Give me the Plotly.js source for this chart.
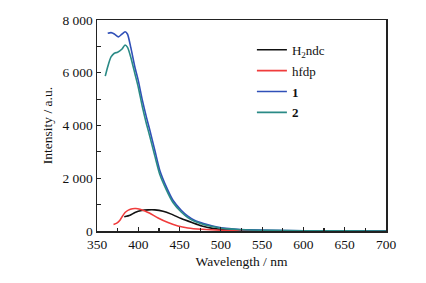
<!DOCTYPE html>
<html>
<head>
<meta charset="utf-8">
<script src="https://cdn.plot.ly/plotly-3.0.1.min.js"></script>
<style>html,body{margin:0;padding:0;background:#fff;}#chart{width:426px;height:283px;}</style>
</head>
<body>
<div id="chart"></div>
<script>
// Data
const seriesNames = ["H<sub>2</sub>ndc", "hfdp", "<b>1</b>", "<b>2</b>"];

const h2ndcX = [383, 390, 396, 404, 412, 420, 430, 440, 452, 465, 477, 490, 500, 520, 550, 600, 650, 700];
const h2ndcY = [540, 600, 700, 775, 800, 800, 750, 640, 470, 320, 190, 100, 60, 20, 8, 3, 1, 0];

const hfdpX = [370, 374, 378, 381, 384, 388, 393, 397, 402, 408, 414, 424, 436, 448, 460, 477, 500, 550, 600, 650, 700];
const hfdpY = [245, 300, 420, 570, 700, 790, 845, 852, 825, 760, 670, 495, 320, 190, 115, 65, 30, 10, 5, 3, 2];

const c1X = [363, 367, 371, 376, 380, 384, 387, 391, 396, 400, 405, 410, 414, 420, 426, 434, 442, 452, 460, 468, 479, 490, 499, 510, 520, 535, 560, 600, 650, 700];
const c1Y = [7495, 7520, 7470, 7360, 7460, 7556, 7460, 6950, 6200, 5700, 4950, 4300, 3820, 3064, 2305, 1671, 1166, 786, 560, 406, 281, 190, 129, 90, 65, 45, 25, 12, 5, 2];

const c2X = [360, 363, 367, 371, 375, 380, 384, 387, 391, 396, 400, 405, 410, 414, 420, 426, 434, 442, 452, 460, 468, 479, 490, 499, 510, 520, 535, 560, 600, 650, 700];
const c2Y = [5870, 6230, 6600, 6740, 6780, 6890, 7050, 6960, 6580, 5950, 5450, 4700, 4050, 3580, 2850, 2150, 1560, 1080, 720, 510, 370, 250, 170, 115, 80, 58, 40, 22, 10, 4, 2];

const xTickVals = [350, 400, 450, 500, 550, 600, 650, 700];
const xTickText = ["350", "400", "450", "500", "550", "600", "650", "700"];
const yTickVals = [0, 2000, 4000, 6000, 8000];
const yTickText = ["0", "2 000", "4 000", "6 000", "8 000"];

const colors = ["#111111", "#f03c3c", "#3050b8", "#2a8a86"];
const font = "Liberation Serif, Times New Roman, serif";

const xs = [h2ndcX, hfdpX, c1X, c2X];
const ys = [h2ndcY, hfdpY, c1Y, c2Y];

const traces = xs.map((x, i) => ({
  x: x, y: ys[i], type: "scatter", mode: "lines", name: seriesNames[i],
  legendgroup: "g" + i,
  line: {color: colors[i], width: 1.6, shape: "spline", smoothing: 0.6}
}));

const axisCommon = {
  showgrid: false, zeroline: false, showline: true, linecolor: "#222", linewidth: 1.5,
  mirror: true, ticks: "inside", tickcolor: "#222", tickwidth: 1.2, ticklen: 4,
  tickfont: {family: font, size: 13.5, color: "#111"}, tickmode: "array"
};

const layout = {
  width: 426, height: 283,
  margin: {l: 97, r: 40, t: 20, b: 52},
  paper_bgcolor: "#fff", plot_bgcolor: "#fff",
  font: {family: font, color: "#111"},
  showlegend: true,
  legend: {x: 0.536, y: 0.93, xanchor: "left", yanchor: "top", bgcolor: "rgba(0,0,0,0)",
           font: {family: font, size: 13, color: "#111"}, traceorder: "grouped", tracegroupgap: 1,
           itemwidth: 30},
  xaxis: Object.assign({}, axisCommon, {
    range: [350, 700], tickvals: xTickVals, ticktext: xTickText,
    minor: {dtick: 25, ticks: "inside", ticklen: 3, tickcolor: "#222", tickwidth: 1.2},
    title: {text: "Wavelength / nm", font: {family: font, size: 13.5, color: "#111"}, standoff: 6}
  }),
  yaxis: Object.assign({}, axisCommon, {
    range: [0, 8000], tickvals: yTickVals, ticktext: yTickText,
    minor: {dtick: 1000, ticks: "inside", ticklen: 4, tickcolor: "#222", tickwidth: 1.2},
    title: {text: "Intensity / a.u.", font: {family: font, size: 13.5, color: "#111"}, standoff: 6}
  })
};

Plotly.newPlot("chart", traces, layout, {displayModeBar: false, staticPlot: true});
</script>
</body>
</html>
